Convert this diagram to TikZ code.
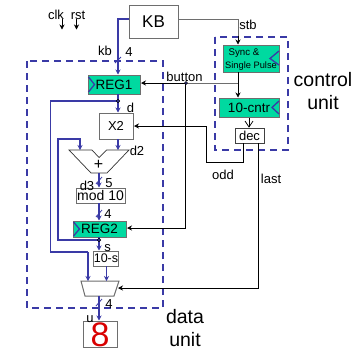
\documentclass[tikz,border=0pt]{standalone}
\usepackage{fontspec}
\setmainfont{Liberation Sans}
\usetikzlibrary{arrows.meta}
\definecolor{wireblue}{HTML}{3A3AA6}
\definecolor{regteal}{HTML}{00D9A0}
\definecolor{boxgray}{HTML}{6E6E6E}
\newcommand{\fs}[1]{\fontsize{#1}{#1}\selectfont}
\tikzset{
  tipk/.style={-{Stealth[length=5pt,width=5pt]}},
  bus/.style={draw=wireblue,line width=1.3pt,-{Stealth[length=5pt,width=5pt]}},
  busline/.style={draw=wireblue,line width=1.3pt},
  ctl/.style={draw=black,line width=.7pt,tipk},
  ctlgray/.style={draw=boxgray,line width=.8pt},
  dashbox/.style={draw=wireblue,line width=1.5pt,dash pattern=on 7pt off 5pt},
  blockbox/.style={draw=boxgray,line width=.9pt,fill=white,inner sep=0pt,font=\fs{13}},
  regbox/.style={draw=boxgray,line width=.9pt,fill=regteal,inner sep=0pt,font=\fs{13.5}},
  lab/.style={inner sep=0pt,font=\fs{13}},
  biglab/.style={inner sep=0pt,font=\fs{19.5},align=center},
  chev/.style={draw=wireblue,line width=1.3pt},
  slash/.style={draw=wireblue,line width=.8pt},
  jdot/.style={circle,fill=wireblue,draw=black,line width=.5pt,inner sep=0pt,minimum size=3.5pt}
}
\begin{document}
\begin{tikzpicture}[x=1pt,y=-1pt]
\useasboundingbox (0,0) rectangle (356,349);
% dashed units
\draw[dashbox] (27,61) rectangle (163,308);
\draw[dashbox] (215,37) rectangle (288,150);
% blocks
\node[blockbox,minimum width=49pt,minimum height=33pt,font=\fs{17}] (kbd) at (153.5,21.5) {KB};
\node[regbox,minimum width=52pt,minimum height=19pt] (reg1) at (114,84.5) {REG1};
\node[blockbox,minimum width=34pt,minimum height=26pt] (x2) at (116,126) {X2};
\node[blockbox,minimum width=49pt,minimum height=15pt,font=\fs{14}] (mod) at (100.5,195.5) {mod 10};
\node[regbox,minimum width=53pt,minimum height=16pt] (reg2) at (99.5,229) {REG2};
\node[blockbox,minimum width=24pt,minimum height=15pt,font=\fs{12.5}] (tens) at (106,258.5) {10-s};
\node[blockbox,minimum width=34pt,minimum height=26pt,anchor=center] (disp) at (100,334) {};
\node[inner sep=0pt,text=red!85!black,font=\fs{34}] (eight) at (100,335) {8};
\node[regbox,minimum width=56pt,minimum height=27pt] (sync) at (251,58.5) {};
\node[inner sep=0pt,font=\fs{9.7}] (synca) at (244,53) {Sync \&};
\node[inner sep=0pt,font=\fs{9.3}] (syncb) at (251,66) {Single Pulse};
\node[regbox,minimum width=60pt,minimum height=19pt] (cntr) at (249,107.5) {10-cntr};
\node[blockbox,minimum width=29pt,minimum height=15pt,draw=black!75] (dec) at (249.5,135.5) {dec};
% clock chevrons
\draw[chev] (88.5,77) -- (94.5,84.5) -- (88.5,92);
\draw[chev] (73.5,222) -- (79.5,229) -- (73.5,236);
\draw[chev] (279,51) -- (270,58.5) -- (279,65);
\draw[chev] (279,101) -- (272,107.5) -- (279,114);
% adder and mux
\coordinate (addl) at (80,150);
\coordinate (addr) at (118,150);
\coordinate (addo) at (99,173);
\draw[draw=black!80,line width=.7pt,fill=white] (69,150) -- (92,150) -- (99,157.5) -- (106.5,150) -- (129,150) -- (107,173) -- (91,173) -- cycle;
\node[inner sep=0pt,font=\fs{16}] (plus) at (98.5,165) {+};
\draw[draw=boxgray,line width=1pt,fill=white] (81,281) -- (119,281) -- (114,296) -- (85,296) -- cycle;
\coordinate (muxa) at (88,281);
\coordinate (muxb) at (106.5,281);
\coordinate (muxr) at (118,288);
\coordinate (muxo) at (99,296);
% junctions
\coordinate (r1j) at (118,101);
\coordinate (r2j) at (99,240);
\coordinate (btn) at (186,83);
\coordinate (stbc) at (238,19);
% buses
\draw[bus] (kbd.west |- 0,19) -- (118,19) -- (118,74.5);
\draw[bus] (118,94) -- (118,112.5);
\draw[busline] (r1j) -- (50.5,101) -- (50.5,252) -- (88,252);
\draw[bus] (88,252) -- (muxa);
\draw[bus] (r2j) -- (58,240) -- (58,139) -- (80,139) -- (addl);
\draw[bus] (118,139) -- (addr);
\draw[bus] (addo) -- (99,187.5);
\draw[bus] (99,203) -- (99,220.5);
\draw[bus] (99,237) -- (99,250.5);
\draw[bus] (106.5,266) -- (muxb);
\draw[bus] (muxo) -- (99,320.5);
\node[jdot] (r1dot) at (r1j) {};
\node[jdot] (r2dot) at (r2j) {};
% slashes
\draw[slash] (115,63) -- (121,57);
\draw[slash] (96,184) -- (102,177);
\draw[slash] (96,217) -- (102,210);
\draw[slash] (96,306) -- (102,299);
% control wires
\draw[ctlgray] (kbd.east |- 0,19) -- (stbc);
\draw[ctlgray] (stbc) -- (238,36);
\draw[ctl] (238,36) -- (238,44.5);
\draw[ctl] (238,72) -- (238,97.5);
\draw[ctlgray] (btn) -- (238,83);
\draw[ctl] (btn) -- (141,83);
\draw[ctl] (185.5,83) -- (185.5,228) -- (127,228);
\node[circle,fill=wireblue,draw=black,line width=.4pt,inner sep=0pt,minimum size=3pt] (btndot) at (btn) {};
\draw[ctl] (243,143) -- (243,162) -- (206,162) -- (206,126) -- (134,126);
\draw[ctl] (258,143) -- (258,288) -- (muxr);
\draw[draw=black,line width=.7pt] (249,117.5) -- (249,126.5);
\draw[draw=black,line width=.7pt] (245,121) -- (249,127) -- (253,121);
% clk rst
\node[lab] (clk) at (56,15) {clk};
\node[lab] (rst) at (78,15) {rst};
\coordinate (clkt) at (62,29.5);
\coordinate (rstt) at (76.5,29.5);
\draw[ctl] (62,19) -- (clkt);
\draw[ctl] (76.5,19) -- (rstt);
% labels
\node[lab] (lkb) at (105,50.5) {kb};
\node[lab] (l4a) at (129,52) {4};
\node[lab] (lbtn) at (184.5,76.5) {button};
\node[lab] (ld) at (130.5,108) {d};
\node[lab] (ld2) at (137,150.5) {d2};
\node[lab] (ld3) at (87,185.5) {d3};
\node[lab] (l5) at (109,183) {5};
\node[lab] (l4b) at (108,214) {4};
\node[lab] (ls) at (107.5,248) {s};
\node[lab] (l4c) at (109,304) {4};
\node[lab] (lu) at (90,319) {u};
\node[lab] (lstb) at (248,25) {stb};
\node[lab] (lodd) at (223,175) {odd};
\node[lab] (llast) at (271,179) {last};
\node[biglab] (ctrlu) at (323,91) {control\\[3pt]unit};
\node[biglab,align=center] (datau) at (185,328) {data\\[3pt]unit};
\end{tikzpicture}
\end{document}
